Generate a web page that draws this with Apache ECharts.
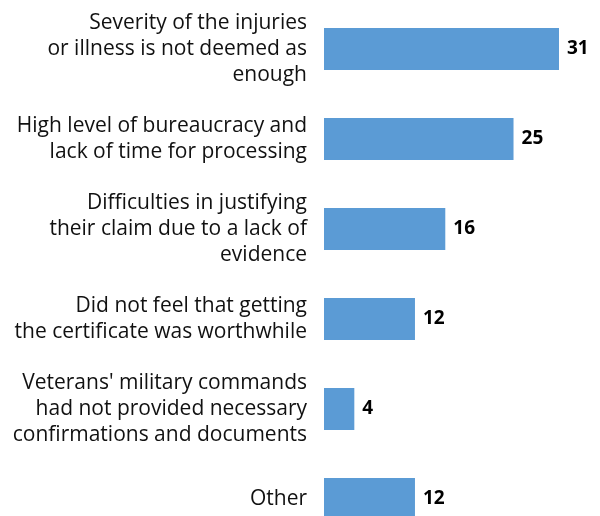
<!DOCTYPE html>
<html>
<head>
<meta charset="utf-8">
<script src="https://cdn.jsdelivr.net/npm/echarts@6/dist/echarts.min.js"></script>
<style>
  html, body { margin: 0; padding: 0; background: #fff; }
  #chart { width: 600px; height: 516px; }
</style>
</head>
<body>
<div id="chart"></div>
<script>
// Reasons given for not obtaining the certificate (count of responses)
const categories = [
  "Severity of the injuries\nor illness is not deemed as\nenough",
  "High level of bureaucracy and\nlack of time for processing",
  "Difficulties in justifying\ntheir claim due to a lack of\nevidence",
  "Did not feel that getting\nthe certificate was worthwhile",
  "Veterans' military commands\nhad not provided necessary\nconfirmations and documents",
  "Other"
];
const values = [31, 25, 16, 12, 4, 12];

const chart = echarts.init(document.getElementById('chart'), null, { renderer: 'canvas' });
chart.setOption({
  backgroundColor: '#ffffff',
  animation: false,
  // the last band runs past the bottom edge of the canvas
  grid: {
    left: 324, top: 4, right: 41, bottom: -28,
    containLabel: false,
    outerBoundsMode: 'none'
  },
  xAxis: {
    type: 'value', min: 0, max: 31,
    show: false
  },
  yAxis: {
    type: 'category',
    data: categories,
    inverse: true,
    axisLine: { show: false },
    axisTick: { show: false },
    axisLabel: {
      margin: 17,
      align: 'right',
      color: '#111111',
      fontFamily: '"Open Sans", sans-serif',
      fontSize: 21,
      lineHeight: 26
    }
  },
  series: [{
    type: 'bar',
    data: values,
    barWidth: 42,
    itemStyle: { color: '#5B9BD5' },
    label: {
      show: true,
      position: 'right',
      distance: 8,
      color: '#000000',
      fontFamily: '"Open Sans", sans-serif',
      fontWeight: 'bold',
      fontSize: 19
    }
  }]
});
</script>
</body>
</html>
